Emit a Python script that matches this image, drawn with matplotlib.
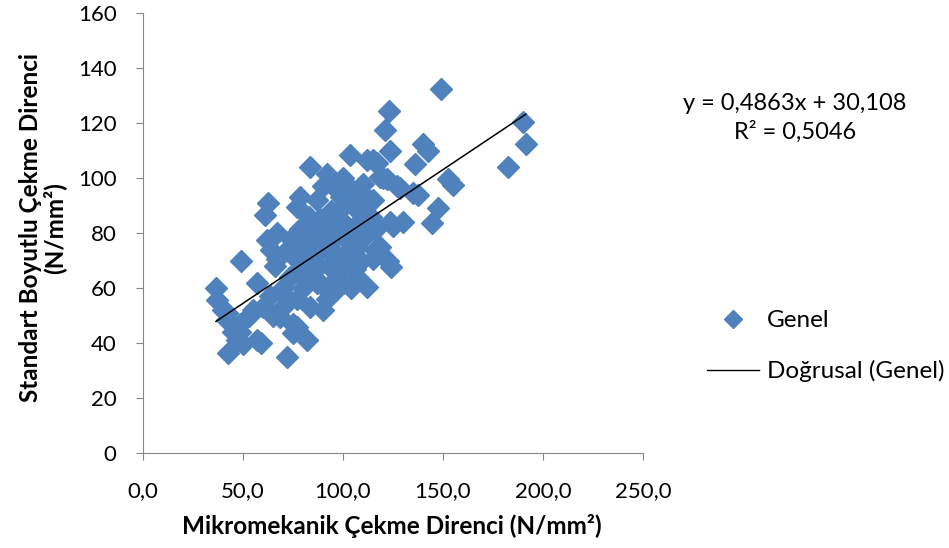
# Mikromekanik vs standart boyutlu cekme direnci scatter with linear trend
import numpy as np
import matplotlib.pyplot as plt
from matplotlib.lines import Line2D

mikro = [36.5, 37, 40, 42, 42.5, 45, 47, 48.5, 49, 50, 55, 57, 57, 59, 60,
         62, 61, 62.5, 63.5, 64, 66, 67, 67, 68.5, 70, 70, 72, 72, 73.5, 74,
         75, 75, 76, 77, 77, 77, 78.5, 78.5, 78.5, 80, 80, 82, 82, 83, 83.5,
         83.5, 85, 86, 87, 87, 88.5, 88.5, 89, 90, 90, 91, 92, 92, 93, 94,
         95, 95, 96, 97, 97, 98.5, 98.5, 99, 100, 100, 100, 101, 102, 103,
         103.5, 104, 105, 106, 107, 107, 107, 108, 109, 110, 111, 112, 112,
         113, 114, 115, 115, 115, 115, 116, 116, 117, 118.5, 118.5, 120, 121,
         122, 122.5, 123, 123.5, 123.5, 124, 125, 127, 128.5, 130, 135, 136,
         137.5, 140, 142.5, 144.5, 147.5, 149, 152.5, 155, 182.5, 190, 191.5,
         42, 48.5, 53, 65, 71, 80, 94, 96, 104, 110, 85, 90, 106]
standart = [60, 55.5, 52, 48.5, 36.5, 44, 41, 47, 70, 39.5, 52, 62, 41, 40, 53,
            77.5, 86.5, 91, 57, 74, 68, 70.5, 80, 49.5, 60, 53, 74, 35, 64, 78,
            43.5, 47, 71, 89.5, 56, 46, 81.5, 93, 66.5, 76, 60, 75, 41, 86, 104,
            53, 70, 80, 92, 62, 85, 62, 74, 52, 97, 78, 101.5, 56, 68, 88,
            97, 77.5, 83, 59.5, 72, 88.5, 66.5, 93, 100, 79, 62, 70, 82.5, 74,
            108.5, 60, 90, 67, 93.5, 75, 64, 84, 70, 88.5, 79, 106.5, 60.5,
            92, 86, 106.5, 83.5, 70.5, 92, 81, 74, 105.5, 100.5, 75, 100, 117.5,
            99.5, 70, 124.5, 110, 84, 67.5, 82.5, 97, 96.5, 84, 94.5, 105,
            94, 112.5, 110, 83.5, 89, 132.5, 99.5, 97.5, 104, 120.5, 112.5,
            51, 44, 50, 50, 57, 64, 73, 63, 96, 98, 66, 82, 80]

# trend line coefficients as printed on the chart
egim = 0.4863
kesim = 30.108
r2 = 0.5046

renk = '#4F81BD'
gri = '#868686'
plt.rcParams['font.family'] = ['Lato', 'DejaVu Sans']

fig = plt.figure(figsize=(9.49, 5.48), dpi=100)
ax = fig.add_axes([143 / 949, 1 - 453 / 548, 500 / 949, 440 / 548])

ax.plot(mikro, standart, linestyle='none', marker='D', markersize=11,
        color=renk, markeredgecolor=renk, zorder=2)
xs = np.array([min(mikro), max(mikro)])
ax.plot(xs, egim * xs + kesim, color='black', linewidth=1.1, zorder=3)

ax.set_xlim(0, 250)
ax.set_ylim(0, 160)
ax.set_xticks(np.arange(0, 251, 50))
ax.set_yticks(np.arange(0, 161, 20))
ax.set_xticklabels([f'{v:.1f}'.replace('.', ',') for v in np.arange(0, 251, 50)])
for s in ['top', 'right']:
    ax.spines[s].set_visible(False)
for s in ['left', 'bottom']:
    ax.spines[s].set_color(gri)
ax.tick_params(direction='out', length=5, color=gri, labelsize=16,
               labelcolor='black')
ax.tick_params(axis='x', pad=15)
ax.tick_params(axis='y', pad=14)

ax.set_xlabel('Mikromekanik Çekme Direnci (N/mm²)', fontsize=17.5,
              fontweight='bold', va='top')
ax.xaxis.set_label_coords((392 - 143) / 500, (453 - 514) / 440)
ax.set_ylabel('Standart Boyutlu Çekme Direnci\n(N/mm²)', fontsize=17.5,
              fontweight='bold', linespacing=1.0)
ax.yaxis.set_label_coords((66 - 143) / 500, (453 - 228) / 440)

fig.text(795 / 949, 1 - 103 / 548,
         f'y = {egim:.4f}x + {kesim:.3f}'.replace('.', ','),
         ha='center', va='center', fontsize=17)
fig.text(795 / 949, 1 - 132 / 548, f'R² = {r2:.4f}'.replace('.', ','),
         ha='center', va='center', fontsize=17)

tutacak = [Line2D([], [], linestyle='none', marker='D', markersize=9,
                  color=renk, label='Genel'),
           Line2D([], [], color='black', linewidth=1, label='Doğrusal (Genel)')]
fig.legend(handles=tutacak, loc='upper left',
           bbox_to_anchor=(707 / 949, 1 - 310 / 548), frameon=False,
           fontsize=17.5, handlelength=2.15, handletextpad=0.3,
           labelspacing=1.2, borderpad=0, borderaxespad=0)

fig.savefig('out.png', dpi=100)
